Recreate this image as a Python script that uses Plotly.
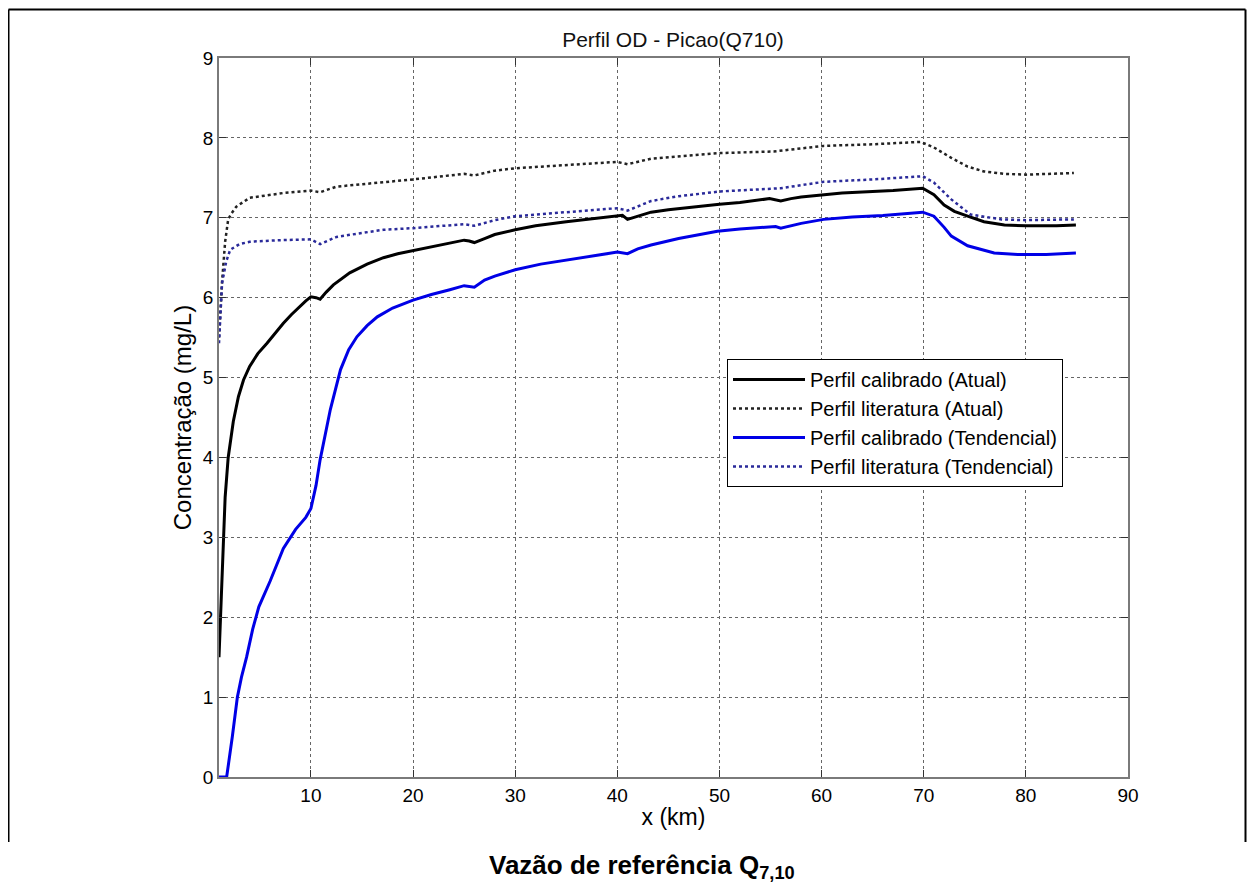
import plotly.graph_objects as go

# Perfil calibrado (Atual) - black solid
x_cal_atual = [1.0, 1.3, 1.6, 1.9, 2.4, 2.9, 3.4, 4.0, 4.8, 5.7, 6.5, 7.3, 8.1, 8.9, 9.5, 10.0, 10.5, 10.9,
               11.5, 12.2, 13.0, 13.8, 15.5, 17.1, 18.5, 20.0, 21.8, 23.6, 25.0, 25.5, 26.0, 27.0, 28.0,
               30.0, 32.0, 35.0, 38.0, 40.0, 40.5, 41.0, 42.0, 43.3, 45.0, 47.0, 50.0, 52.0, 54.9, 56.0,
               57.0, 58.0, 60.2, 62.0, 65.0, 67.0, 69.9, 71.0, 72.0, 73.0, 74.3, 75.9, 77.9, 80.0, 83.0, 84.9]
y_cal_atual = [1.5, 2.6, 3.5, 4.0, 4.45, 4.76, 4.97, 5.14, 5.30, 5.43, 5.56, 5.68, 5.79, 5.89, 5.96, 6.01, 6.00, 5.98,
               6.07, 6.16, 6.24, 6.31, 6.42, 6.50, 6.55, 6.59, 6.64, 6.68, 6.72, 6.71, 6.69, 6.74, 6.79,
               6.85, 6.90, 6.95, 6.99, 7.02, 7.03, 6.98, 7.02, 7.07, 7.10, 7.13, 7.17, 7.19, 7.24, 7.21,
               7.24, 7.26, 7.29, 7.31, 7.33, 7.34, 7.37, 7.29, 7.16, 7.08, 7.02, 6.95, 6.91, 6.90, 6.90, 6.91]

# Perfil literatura (Atual) - black dotted
x_lit_atual = [1.0, 1.3, 1.6, 1.9, 2.2, 2.7, 4.0, 5.5, 7.3, 10.0, 10.9, 12.5, 15.0, 17.1, 20.0, 23.6, 25.0,
               26.0, 28.0, 30.0, 35.0, 40.0, 41.0, 43.3, 47.0, 50.1, 55.3, 60.2, 65.0, 69.7, 71.0, 72.7,
               74.3, 75.9, 77.9, 80.0, 84.7]
y_lit_atual = [5.5, 6.2, 6.7, 6.98, 7.05, 7.14, 7.25, 7.28, 7.31, 7.34, 7.32, 7.39, 7.42, 7.44, 7.48, 7.53, 7.55,
               7.53, 7.59, 7.62, 7.66, 7.70, 7.67, 7.74, 7.78, 7.81, 7.83, 7.90, 7.92, 7.95, 7.88, 7.75,
               7.64, 7.58, 7.55, 7.54, 7.56]

# Perfil calibrado (Tendencial) - blue solid
x_cal_tend = [1.0, 1.75, 2.3, 2.8, 3.2, 3.7, 4.3, 4.9, 6.0, 7.3, 8.5, 9.5, 10.0, 10.5, 10.9, 11.4, 11.9, 12.9,
              13.7, 14.5, 15.5, 16.5, 18.0, 20.0, 21.8, 23.6, 25.0, 26.0, 27.0, 28.0, 30.0, 32.5, 35.0, 38.0,
              40.0, 41.0, 42.0, 43.3, 46.0, 49.8, 52.0, 55.5, 56.0, 58.0, 60.2, 63.0, 66.0, 69.9, 71.0, 72.0,
              72.7, 74.3, 76.9, 79.2, 82.0, 84.9]
y_cal_tend = [0.0, 0.0, 0.5, 1.0, 1.25, 1.5, 1.85, 2.13, 2.45, 2.86, 3.1, 3.25, 3.36, 3.65, 3.97, 4.3, 4.6, 5.10,
              5.35, 5.51, 5.65, 5.76, 5.87, 5.97, 6.04, 6.10, 6.15, 6.13, 6.22, 6.27, 6.35, 6.42, 6.47, 6.53,
              6.57, 6.55, 6.61, 6.66, 6.74, 6.83, 6.86, 6.89, 6.87, 6.93, 6.98, 7.01, 7.03, 7.07, 7.02, 6.88,
              6.77, 6.65, 6.56, 6.54, 6.54, 6.56]

# Perfil literatura (Tendencial) - blue dotted
x_lit_tend = [1.0, 1.3, 1.7, 2.1, 3.0, 4.0, 7.0, 10.0, 10.9, 12.5, 15.0, 17.1, 20.0, 23.6, 25.0, 26.0, 28.0,
              30.0, 35.0, 40.0, 41.0, 43.3, 46.0, 50.1, 56.0, 60.2, 65.0, 69.9, 71.0, 72.7, 74.6, 77.6, 80.0, 84.7]
y_lit_tend = [5.43, 6.18, 6.45, 6.60, 6.67, 6.70, 6.72, 6.73, 6.67, 6.76, 6.81, 6.85, 6.87, 6.90, 6.92, 6.90, 6.97,
              7.02, 7.07, 7.12, 7.09, 7.21, 7.27, 7.33, 7.37, 7.45, 7.48, 7.52, 7.44, 7.23, 7.04, 6.98, 6.97, 6.98]

names = ["Perfil calibrado (Atual)", "Perfil literatura (Atual)",
         "Perfil calibrado (Tendencial)", "Perfil literatura (Tendencial)"]

FONT = "Arial, Liberation Sans, sans-serif"

fig = go.Figure()
fig.add_trace(go.Scatter(x=x_cal_atual, y=y_cal_atual, mode="lines", name=names[0],
                         line=dict(color="black", width=3)))
fig.add_trace(go.Scatter(x=x_lit_atual, y=y_lit_atual, mode="lines", name=names[1],
                         line=dict(color="#222222", width=2.5, dash="dot")))
fig.add_trace(go.Scatter(x=x_cal_tend, y=y_cal_tend, mode="lines", name=names[2],
                         line=dict(color="#0000e6", width=3)))
fig.add_trace(go.Scatter(x=x_lit_tend, y=y_lit_tend, mode="lines", name=names[3],
                         line=dict(color="#2a2a9a", width=2.5, dash="dot")))

# page offset of the plot div (browser body margin); keep the page within the window
OFF = 8
W, H = 1255 - 2 * OFF, 890 - 2 * OFF
L, T = 219 - OFF, 58 - OFF
R = W + OFF - 1128
B = H + OFF - 777
pw, ph = W - L - R, H - T - B

def px(xp):
    return (xp - OFF - L) / pw

def py(yp):
    return (H - B - (yp - OFF)) / ph

axis_common = dict(showline=True, linecolor="#7a7a7a", linewidth=1.5, mirror="ticks",
                   ticks="inside", ticklen=7, tickcolor="#333333",
                   showgrid=True, gridcolor="#666666", griddash="dot", gridwidth=1,
                   zeroline=False, tickfont=dict(family=FONT, size=19, color="black"))

fig.update_layout(
    width=W, height=H,
    margin=dict(l=L, r=R, t=T, b=B),
    paper_bgcolor="white", plot_bgcolor="white",
    font=dict(family=FONT, color="black"),
    title=dict(text="Perfil OD - Picao(Q710)", xref="paper", x=px(673), xanchor="center",
               y=1 - (40 - OFF) / H, yanchor="middle", font=dict(size=21, color="#111111")),
    xaxis=dict(range=[1, 90], tick0=0, dtick=10,
               title=dict(text="x (km)", font=dict(size=23), standoff=4), **axis_common),
    yaxis=dict(range=[0, 9], tick0=0, dtick=1,
               title=dict(text="Concentração (mg/L)", font=dict(size=24), standoff=4), **axis_common),
    legend=dict(x=px(727), y=py(359), xanchor="left", yanchor="top",
                bgcolor="white", bordercolor="black", borderwidth=1,
                font=dict(family=FONT, size=20, color="black"),
                itemwidth=72, tracegroupgap=0),
    showlegend=True,
)

fig.add_annotation(text="<b>Vazão de referência Q<sub>7,10</sub></b>", xref="paper", yref="paper",
                   x=px(642), y=py(866), xanchor="center", yanchor="middle", showarrow=False,
                   font=dict(family=FONT, size=26, color="black"))

# outer frame (left, top, right)
x0f, x1f, y0f, y1f = px(8.5), px(1245.5), py(842), py(9.5)
for (a, b, c, d) in [(x0f, y0f, x0f, y1f), (x0f, y1f, x1f, y1f), (x1f, y1f, x1f, y0f)]:
    fig.add_shape(type="line", xref="paper", yref="paper", x0=a, y0=b, x1=c, y1=d,
                  line=dict(color="black", width=2))

fig.write_html("out.html")
